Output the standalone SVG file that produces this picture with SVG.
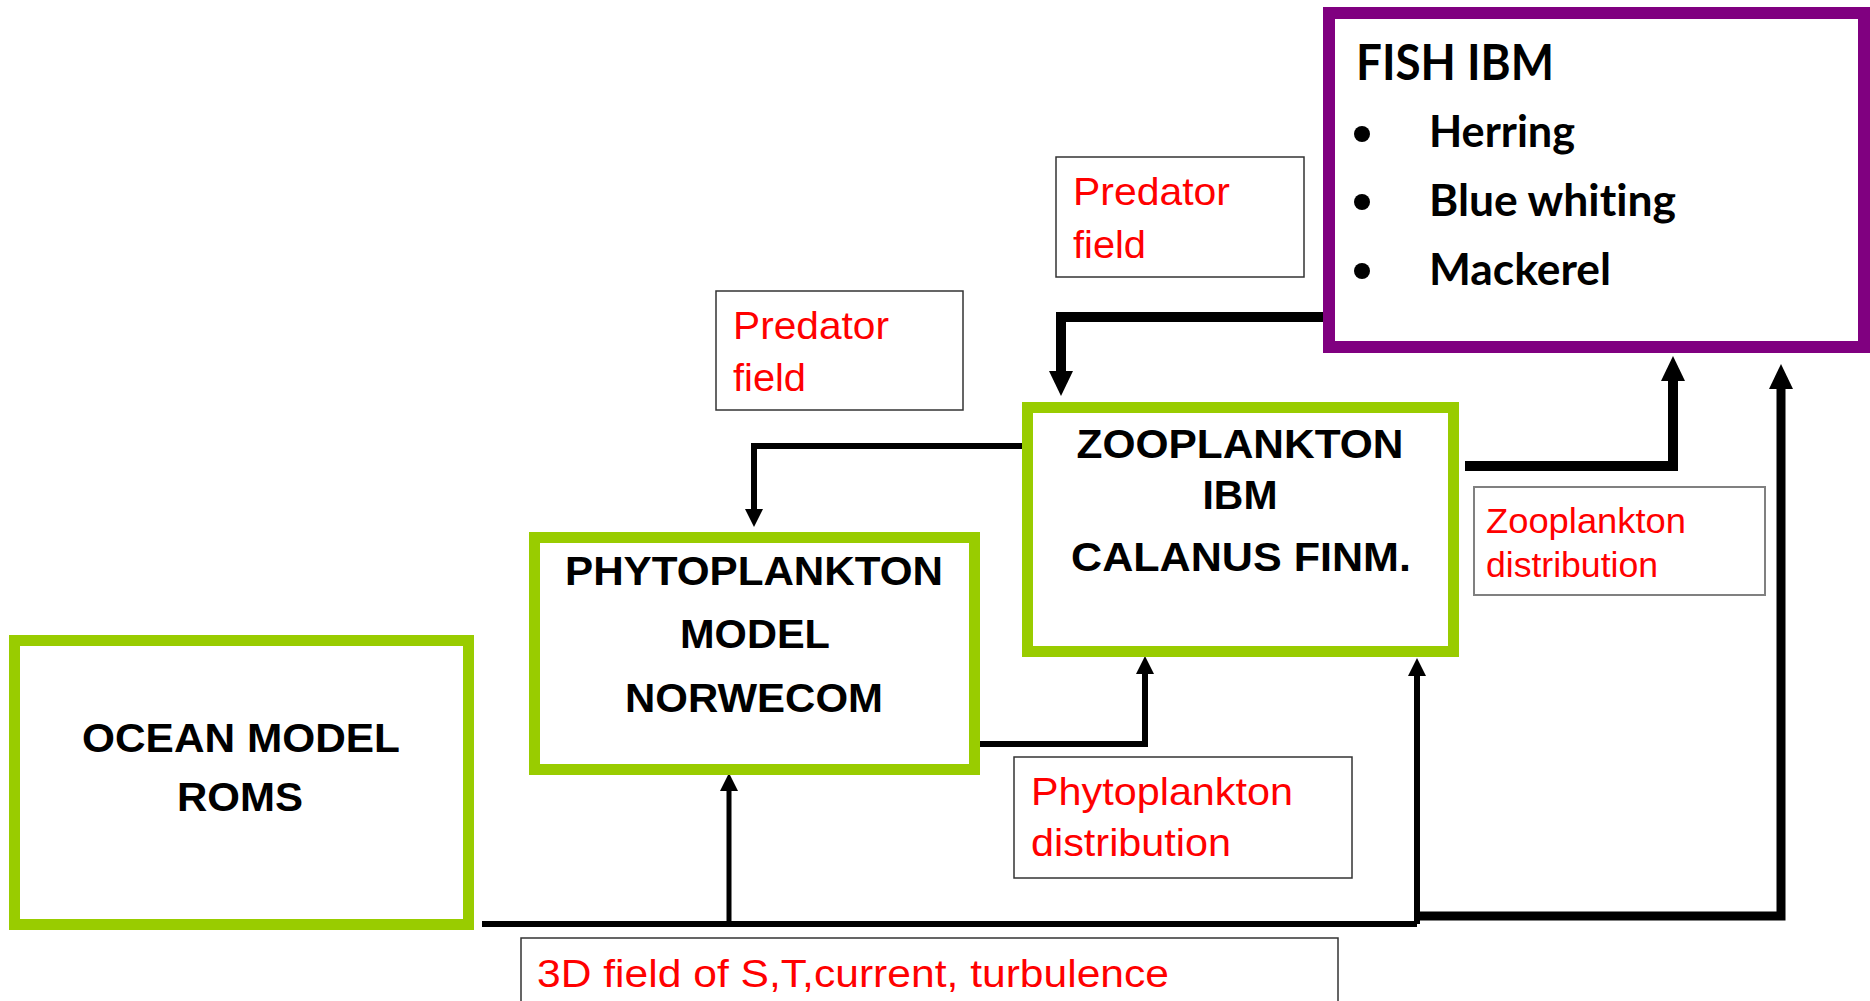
<svg xmlns="http://www.w3.org/2000/svg" width="1870" height="1001" viewBox="0 0 1870 1001">
<defs>
<style>
.green{fill:#ffffff;stroke:#99cc00;stroke-width:11}
.purple{fill:#ffffff;stroke:#800080;stroke-width:12}
.lbl{fill:#ffffff;stroke:#333333;stroke-width:1.5}
.node{font-family:"Liberation Sans",Arial,sans-serif;font-weight:bold;fill:#000000;text-anchor:middle}
.red{font-family:"Liberation Sans",Arial,sans-serif;fill:#ff0000}
.fish{font-family:Lato,"Open Sans",sans-serif;font-weight:bold;fill:#000000;font-variant-ligatures:none}
.conn{fill:none;stroke:#000000;stroke-linejoin:miter}
</style>
<marker id="arrS" markerUnits="userSpaceOnUse" markerWidth="20" markerHeight="20" refX="0" refY="0" orient="auto" overflow="visible">
<path d="M0,-9 L18,0 L0,9 z" fill="#000000"/>
</marker>
<marker id="arrL" markerUnits="userSpaceOnUse" markerWidth="28" markerHeight="28" refX="0" refY="0" orient="auto" overflow="visible">
<path d="M0,-12 L25,0 L0,12 z" fill="#000000"/>
</marker>
</defs>
<rect width="1870" height="1001" fill="#ffffff"/>

<g id="connectors" class="conn">
<path d="M1328,317 H1061 V371" stroke-width="10" marker-end="url(#arrL)"/>
<path d="M1027,446 H754 V509" stroke-width="6" marker-end="url(#arrS)"/>
<path d="M978,744 H1145 V674" stroke-width="6" marker-end="url(#arrS)"/>
<path d="M1465,466 H1673 V381" stroke-width="10" marker-end="url(#arrL)"/>
<path d="M482,924 H1417" stroke-width="6"/>
<path d="M729,924 V791" stroke-width="5" marker-end="url(#arrS)"/>
<path d="M1417,924 V676" stroke-width="6" marker-end="url(#arrS)"/>
<path d="M1417,916 H1781 V389" stroke-width="9" marker-end="url(#arrL)"/>
</g>

<g id="fish-ibm">
<rect class="purple" x="1329" y="13" width="535" height="334"/>
<text class="fish" x="1356" y="80" font-size="50" textLength="198" lengthAdjust="spacingAndGlyphs">FISH IBM</text>
<circle cx="1362" cy="134" r="8"/>
<circle cx="1362" cy="202" r="8"/>
<circle cx="1362" cy="271" r="8"/>
<text class="fish" x="1429" y="147" font-size="44" textLength="146" lengthAdjust="spacingAndGlyphs">Herring</text>
<text class="fish" x="1429" y="216" font-size="44" textLength="247" lengthAdjust="spacingAndGlyphs">Blue whiting</text>
<text class="fish" x="1429" y="285" font-size="44" textLength="182" lengthAdjust="spacingAndGlyphs">Mackerel</text>
</g>

<g id="ocean-model">
<rect class="green" x="14.5" y="640.5" width="454" height="284"/>
<text class="node" x="241" y="752" font-size="40" textLength="318" lengthAdjust="spacingAndGlyphs">OCEAN MODEL</text>
<text class="node" x="240" y="811" font-size="40" textLength="126" lengthAdjust="spacingAndGlyphs">ROMS</text>
</g>

<g id="phytoplankton-model">
<rect class="green" x="534.5" y="537.5" width="440" height="232"/>
<text class="node" x="754" y="585" font-size="40" textLength="378" lengthAdjust="spacingAndGlyphs">PHYTOPLANKTON</text>
<text class="node" x="755" y="648" font-size="40" textLength="150" lengthAdjust="spacingAndGlyphs">MODEL</text>
<text class="node" x="754" y="712" font-size="40" textLength="258" lengthAdjust="spacingAndGlyphs">NORWECOM</text>
</g>

<g id="zooplankton-ibm">
<rect class="green" x="1027.5" y="407.5" width="426" height="244"/>
<text class="node" x="1240" y="458" font-size="40" textLength="327" lengthAdjust="spacingAndGlyphs">ZOOPLANKTON</text>
<text class="node" x="1240" y="509" font-size="40" textLength="75" lengthAdjust="spacingAndGlyphs">IBM</text>
<text class="node" x="1241" y="571" font-size="40" textLength="340" lengthAdjust="spacingAndGlyphs">CALANUS FINM.</text>
</g>

<g id="label-predator-1">
<rect class="lbl" x="716" y="291" width="247" height="119"/>
<text class="red" x="733" y="339" font-size="39" textLength="156" lengthAdjust="spacingAndGlyphs">Predator</text>
<text class="red" x="733" y="391" font-size="39" textLength="73" lengthAdjust="spacingAndGlyphs">field</text>
</g>

<g id="label-predator-2">
<rect class="lbl" x="1056" y="157" width="248" height="120"/>
<text class="red" x="1073" y="205" font-size="39" textLength="157" lengthAdjust="spacingAndGlyphs">Predator</text>
<text class="red" x="1073" y="258" font-size="39" textLength="73" lengthAdjust="spacingAndGlyphs">field</text>
</g>

<g id="label-zooplankton-distribution">
<rect x="1474" y="487" width="291" height="108" fill="#ffffff" stroke="#808080" stroke-width="2"/>
<text class="red" x="1486" y="533" font-size="35" textLength="200" lengthAdjust="spacingAndGlyphs">Zooplankton</text>
<text class="red" x="1486" y="577" font-size="35" textLength="172" lengthAdjust="spacingAndGlyphs">distribution</text>
</g>

<g id="label-phytoplankton-distribution">
<rect class="lbl" x="1014" y="757" width="338" height="121"/>
<text class="red" x="1031" y="805" font-size="39" textLength="262" lengthAdjust="spacingAndGlyphs">Phytoplankton</text>
<text class="red" x="1031" y="856" font-size="39" textLength="200" lengthAdjust="spacingAndGlyphs">distribution</text>
</g>

<g id="label-3d-field">
<rect class="lbl" x="521" y="938" width="817" height="80"/>
<text class="red" x="537" y="987" font-size="39" textLength="632" lengthAdjust="spacingAndGlyphs">3D field of S,T,current, turbulence</text>
</g>
</svg>
